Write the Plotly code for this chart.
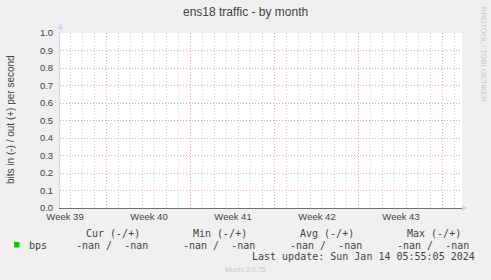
import plotly.graph_objects as go

# ---------------- data ----------------
title_text = "ens18 traffic - by month"
y_title = "bits in (-) / out (+) per second"
range_start = "2023-09-28 04:00"
range_end = "2023-10-31 16:00"
week_starts = ["2023-10-02", "2023-10-09", "2023-10-16", "2023-10-23", "2023-10-30"]
week_label_pos = ["2023-09-28 14:00", "2023-10-05 14:00", "2023-10-12 14:00",
                  "2023-10-19 14:00", "2023-10-26 14:00"]
week_labels = ["Week 39", "Week 40", "Week 41", "Week 42", "Week 43"]
y_ticks = [0.0, 0.1, 0.2, 0.3, 0.4, 0.5, 0.6, 0.7, 0.8, 0.9, 1.0]
sample_times = ["2023-09-28 04:00", "2023-10-31 16:00"]
bps_in = [None, None]
bps_out = [None, None]
series_name = "bps"
stat_headers = ["Cur (-/+)", "Min (-/+)", "Avg (-/+)", "Max (-/+)"]
stat_values = ["-nan /  -nan", "-nan /  -nan", "-nan /  -nan", "-nan /  -nan"]
last_update = "Last update: Sun Jan 14 05:55:05 2024"
footer = "Munin 2.0.75"
side_text = "RRDTOOL / TOBI OETIKER"

# ---------------- layout helpers ----------------
W, H = 491, 280
L, R, T, B = 60, 462, 33, 208


def px(x):
    return (x - L) / (R - L)


def py(y):
    return (B - y) / (B - T)


MONO = "DejaVu Sans Mono"
SANS = "Liberation Sans, Arial, sans-serif"
TXT = "#444444"

fig = go.Figure()
fig.add_trace(go.Scatter(x=sample_times, y=bps_out, mode="lines", name=series_name,
                         line=dict(color="#00cc00", width=1), showlegend=False,
                         hoverinfo="skip"))
fig.add_trace(go.Scatter(x=sample_times, y=bps_in, mode="lines", name=series_name + " in",
                         line=dict(color="#00cc00", width=1), showlegend=False,
                         hoverinfo="skip"))
fig.add_trace(go.Scatter(x=week_label_pos, y=[None] * len(week_label_pos), xaxis="x2",
                         mode="markers", showlegend=False, hoverinfo="skip"))

annotations = []
annotations.append(dict(text=title_text, x=px(245), y=py(12), xref="paper", yref="paper",
                        showarrow=False, xanchor="center", yanchor="middle",
                        font=dict(family=SANS, size=12, color=TXT)))
annotations.append(dict(text=y_title, x=px(10), y=py(120), xref="paper", yref="paper",
                        showarrow=False, textangle=-90, xanchor="center", yanchor="middle",
                        font=dict(family=SANS, size=10, color=TXT)))
annotations.append(dict(text=side_text, x=px(484), y=py(54), xref="paper", yref="paper",
                        showarrow=False, textangle=90, xanchor="center", yanchor="middle",
                        font=dict(family=SANS, size=7.5, color="#c8c8c8")))
col_right = [150, 257, 364, 471]
for h, v, xr in zip(stat_headers, stat_values, col_right):
    annotations.append(dict(text=h.replace(" ", "\u00a0"), x=px(xr - 8), y=py(233),
                            xref="paper", yref="paper", showarrow=False,
                            xanchor="right", yanchor="middle",
                            font=dict(family=MONO, size=10, color=TXT)))
    annotations.append(dict(text=v.replace(" ", "\u00a0"), x=px(xr), y=py(245),
                            xref="paper", yref="paper", showarrow=False,
                            xanchor="right", yanchor="middle",
                            font=dict(family=MONO, size=10, color=TXT)))
annotations.append(dict(text=series_name, x=px(27), y=py(245), xref="paper", yref="paper",
                        showarrow=False, xanchor="left", yanchor="middle",
                        font=dict(family=MONO, size=10, color=TXT)))
annotations.append(dict(text=last_update.replace(" ", "\u00a0"), x=px(477), y=py(256),
                        xref="paper", yref="paper", showarrow=False,
                        xanchor="right", yanchor="middle",
                        font=dict(family=MONO, size=10, color=TXT)))
annotations.append(dict(text=footer, x=px(245), y=py(269), xref="paper", yref="paper",
                        showarrow=False, xanchor="center", yanchor="middle",
                        font=dict(family=SANS, size=7, color="#c8c8c8")))

AXIS_COL = "#CFD6F8"
shapes = [
    dict(type="rect", xref="paper", yref="paper", x0=px(14), x1=px(19.5), y0=py(242), y1=py(247.5),
         fillcolor="#00cc00", line=dict(width=0)),
    dict(type="line", xref="paper", yref="paper", x0=px(60.5), x1=px(60.5), y0=py(33), y1=py(28),
         line=dict(color=AXIS_COL, width=1)),
    dict(type="path", xref="paper", yref="paper",
         path=f"M {px(57.5)},{py(29)} L {px(63.5)},{py(29)} L {px(60.5)},{py(23)} Z",
         fillcolor=AXIS_COL, line=dict(width=0)),
    dict(type="path", xref="paper", yref="paper",
         path=f"M {px(462)},{py(205)} L {px(462)},{py(211)} L {px(468)},{py(208)} Z",
         fillcolor=AXIS_COL, line=dict(width=0)),
]

fig.update_layout(
    width=W, height=H,
    margin=dict(l=L, r=W - R, t=T, b=H - B, pad=0),
    paper_bgcolor="#f0f0f0", plot_bgcolor="#ffffff",
    showlegend=False,
    annotations=annotations, shapes=shapes,
    xaxis=dict(type="date", range=[range_start, range_end],
               tickmode="array", tickvals=week_starts, showticklabels=False, ticks="",
               showgrid=True, gridcolor="#f4a0a0", griddash="1px,2px", gridwidth=1,
               minor=dict(dtick=86400000, tick0="2023-10-02", showgrid=True,
                          gridcolor="#cfcfcf", griddash="1px,2px", gridwidth=1, ticks=""),
               showline=True, linecolor="#6e6e82", linewidth=1, zeroline=False,
               fixedrange=True),
    xaxis2=dict(type="date", overlaying="x", anchor="y", side="bottom",
                range=[range_start, range_end], tickmode="array",
                tickvals=week_label_pos, ticktext=week_labels, showgrid=False,
                ticks="", ticklabelstandoff=1, showline=False, zeroline=False,
                tickfont=dict(family=SANS, size=9.5, color=TXT), fixedrange=True),
    yaxis=dict(range=[0, 1.0], tickmode="array", tickvals=y_ticks,
               ticktext=[f"{v:.1f}" for v in y_ticks],
               showgrid=True, gridcolor="#f4a0a0", griddash="1px,2px", gridwidth=1,
               ticks="", ticklabelstandoff=4, zeroline=False,
               showline=True, linecolor=AXIS_COL, linewidth=1,
               tickfont=dict(family=SANS, size=9.5, color=TXT), fixedrange=True),
)

fig.write_html("out.html", config={"displayModeBar": False})
